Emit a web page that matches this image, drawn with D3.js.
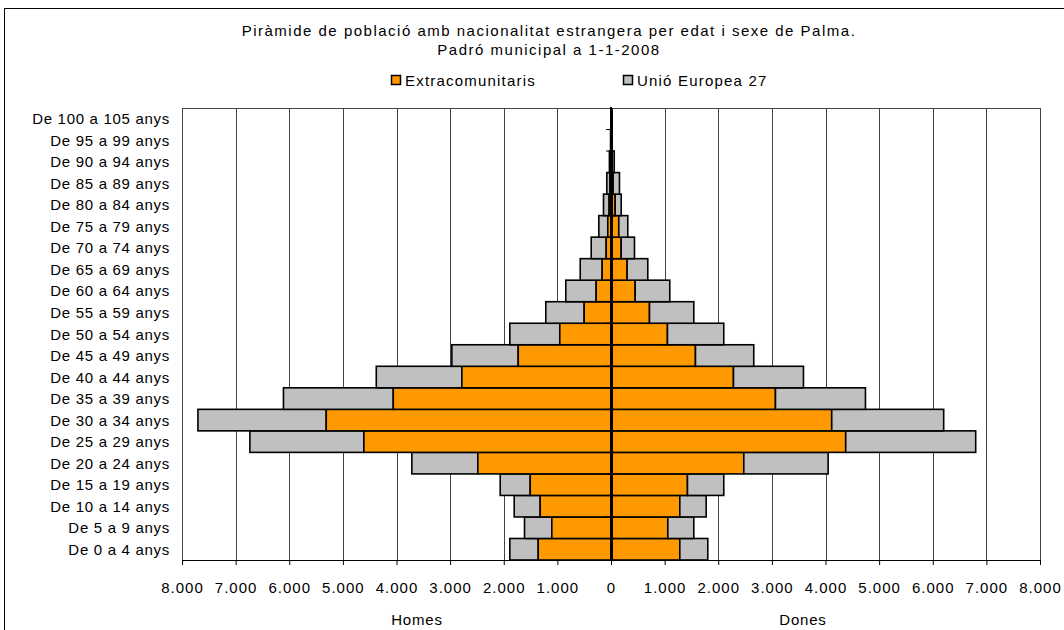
<!DOCTYPE html>
<html><head><meta charset="utf-8">
<script src="https://cdn.jsdelivr.net/npm/d3@7"></script>
<style>
body{margin:0;background:#fff;}
svg text{font-family:"Liberation Sans",Arial,sans-serif;fill:#000;}
</style></head>
<body><svg id="c" width="1064" height="630"></svg>
<script>
// Age groups, bottom to top
const categories = ["De 0 a 4 anys","De 5 a 9 anys","De 10 a 14 anys","De 15 a 19 anys","De 20 a 24 anys","De 25 a 29 anys","De 30 a 34 anys","De 35 a 39 anys","De 40 a 44 anys","De 45 a 49 anys","De 50 a 54 anys","De 55 a 59 anys","De 60 a 64 anys","De 65 a 69 anys","De 70 a 74 anys","De 75 a 79 anys","De 80 a 84 anys","De 85 a 89 anys","De 90 a 94 anys","De 95 a 99 anys","De 100 a 105 anys"];
// Homes (men)
const homesExtra = [1357,1104,1320,1506,2483,4608,5310,4060,2781,1730,955,500,276,164,89,60,35,20,10,3,1];
const homesUE    = [530,509,485,560,1231,2126,2393,2048,1596,1238,932,716,567,410,280,167,105,58,20,5,1];
// Dones (women)
const donesExtra = [1283,1059,1283,1426,2476,4377,4116,3067,2284,1575,1053,718,451,300,190,145,78,40,15,5,1];
const donesUE    = [522,485,492,677,1573,2424,2088,1678,1305,1087,1050,826,645,386,248,168,112,118,45,10,2];
const xTicks = [-8000,-7000,-6000,-5000,-4000,-3000,-2000,-1000,0,1000,2000,3000,4000,5000,6000,7000,8000];
const seriesNames = ["Extracomunitaris","Unió Europea 27"];
const titleLines = ["Piràmide de població amb nacionalitat estrangera per edat i sexe de Palma.","Padró municipal a 1-1-2008"];
const sideLabels = ["Homes","Dones"];

const colExtra = "#FF9900", colUE = "#C0C0C0";
const svg = d3.select("#c");
const L = 182, R = 1040, T = 108, B = 560;
const x = d3.scaleLinear().domain([-8000,8000]).range([L,R]);
const y = d3.scaleBand().domain(categories.slice().reverse()).range([T,B]).padding(0);
const loc = d3.formatLocale({decimal:",",thousands:".",grouping:[3],currency:["",""]});
const fmt = loc.format(",");

// outer frame
svg.append("rect").attr("x",4.5).attr("y",8.5).attr("width",1200).attr("height",800)
  .attr("fill","none").attr("stroke","#000").attr("stroke-width",1);

// titles
svg.selectAll("text.title").data(titleLines).enter().append("text")
  .attr("class","title").attr("x",549).attr("y",(d,i)=>36+i*19)
  .attr("text-anchor","middle").style("font-size","15px").style("letter-spacing","1.5px").text(d=>d);

// legend
const legX = [391,623];
const leg = svg.selectAll("g.leg").data(seriesNames).enter().append("g").attr("class","leg")
  .attr("transform",(d,i)=>`translate(${legX[i]},75)`);
leg.append("rect").attr("x",0.5).attr("y",0.5).attr("width",9).attr("height",9)
  .attr("fill",(d,i)=>i===0?colExtra:colUE).attr("stroke","#000").attr("stroke-width",1.5);
leg.append("text").attr("x",14).attr("y",10.5).style("font-size","15px").style("letter-spacing","1.2px").text(d=>d);

// gridlines
svg.append("g").selectAll("line").data(xTicks).enter().append("line")
  .attr("x1",d=>Math.round(x(d))+0.5).attr("x2",d=>Math.round(x(d))+0.5)
  .attr("y1",T).attr("y2",B).attr("stroke","#444").attr("stroke-width",1);
svg.append("line").attr("x1",L).attr("x2",R+0.5).attr("y1",T+0.5).attr("y2",T+0.5).attr("stroke","#444");

// bars
const rows = categories.map((c,i)=>({c, hE:homesExtra[i], hU:homesUE[i], dE:donesExtra[i], dU:donesUE[i]}));
const g = svg.append("g");
const bars = [];
rows.forEach(r=>{
  bars.push({c:r.c, x0:-(r.hE+r.hU), x1:-r.hE, col:colUE});
  bars.push({c:r.c, x0:-r.hE, x1:0, col:colExtra});
  bars.push({c:r.c, x0:0, x1:r.dE, col:colExtra});
  bars.push({c:r.c, x0:r.dE, x1:r.dE+r.dU, col:colUE});
});
g.selectAll("rect").data(bars).enter().append("rect")
  .attr("x",d=>x(d.x0)).attr("width",d=>Math.max(0,x(d.x1)-x(d.x0)))
  .attr("y",d=>y(d.c)).attr("height",y.bandwidth())
  .attr("fill",d=>d.col).attr("stroke","#000").attr("stroke-width",1.6);

// bottom axis
const xAxis = d3.axisBottom(x).tickValues(xTicks).tickSize(5).tickPadding(17).tickFormat(d=>fmt(Math.abs(d)));
const ax = svg.append("g").attr("transform",`translate(0,${B})`).call(xAxis);
ax.select(".domain").attr("stroke","#000").attr("d",`M${L},0.5H${R}`);
ax.selectAll(".tick line").attr("stroke","#000");
ax.selectAll(".tick text").style("font-size","15px").style("letter-spacing","1px").attr("font-family",null);

// category axis at zero
const yAxis = d3.axisLeft(y).tickSize(0).tickPadding(0).tickFormat("");
const ay = svg.append("g").attr("transform",`translate(${x(0)},0)`).call(yAxis);
ay.select(".domain").attr("stroke","#000").attr("stroke-width",3);
// category boundary ticks
ay.selectAll("line.bt").data(categories.slice(1)).enter().append("line").attr("class","bt")
  .attr("x1",-5).attr("x2",0).attr("y1",d=>y(d)+y.bandwidth()).attr("y2",d=>y(d)+y.bandwidth())
  .attr("stroke","#000");

// category labels on left
svg.append("g").selectAll("text").data(categories).enter().append("text")
  .attr("x",170).attr("y",d=>y(d)+y.bandwidth()/2+5.5).attr("text-anchor","end")
  .style("font-size","15px").style("letter-spacing","0.7px").text(d=>d);

// side labels
const sideX = [417,803];
svg.selectAll("text.side").data(sideLabels).enter().append("text").attr("class","side")
  .attr("x",(d,i)=>sideX[i]).attr("y",625).attr("text-anchor","middle")
  .style("font-size","15px").style("letter-spacing","0.8px").text(d=>d);
</script></body></html>
